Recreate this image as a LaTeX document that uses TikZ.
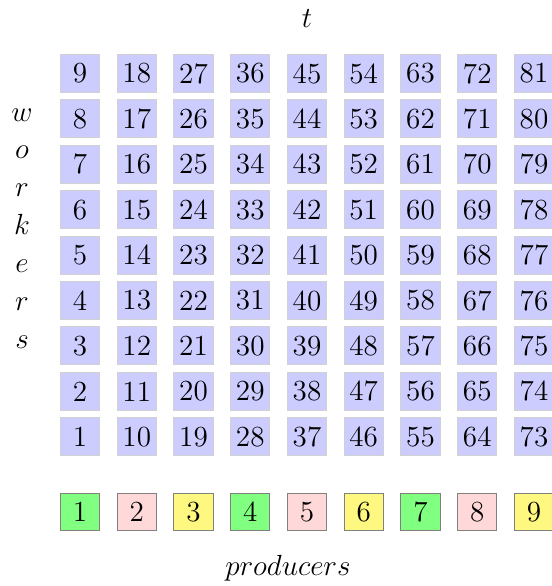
\documentclass[tikz,border=0pt]{standalone}
\begin{document}
\begin{tikzpicture}[x=0.4115pt,y=-0.4115pt,
  cell/.style={draw=black!18,fill=blue!20,line width=0.4pt,minimum width=16.1pt,minimum height=15.6pt,inner sep=0pt,font=\fontsize{12}{14}\selectfont},
  prod/.style={draw=black!50,line width=0.4pt,minimum width=16.1pt,minimum height=15.6pt,inner sep=0pt,font=\fontsize{12}{14}\selectfont},
  lbl/.style={font=\fontsize{11.5}{14}\selectfont,inner sep=0pt}]
\useasboundingbox (0,0) rectangle (552,586);
\foreach \c in {0,...,8}{
  \foreach \r in {1,...,9}{
    \pgfmathtruncatemacro{\n}{9*\c+\r}
    \node[cell] (b\n) at ({80+56.75*\c},{436.7-45.4*(\r-1)}) {\n};
  }
}
\foreach \c/\col in {0/green!50,1/red!15,2/yellow!50,3/green!50,4/red!15,5/yellow!50,6/green!50,7/red!15,8/yellow!50}{
  \pgfmathtruncatemacro{\m}{\c+1}
  \node[prod,fill=\col] (p\m) at ({80+56.75*\c},512) {\m};
}
\node[lbl,anchor=base] (tlab) at (307,27) {$t$};
\node[lbl,anchor=base] (plab) at (288,575) {$producers$};
\node[lbl,align=center] (wlab) at (22,228.5) {$w$\\[1.6pt]$o$\\[1.6pt]$r$\\[1.6pt]$k$\\[1.6pt]$e$\\[1.6pt]$r$\\[1.6pt]$s$};
\end{tikzpicture}
\end{document}
